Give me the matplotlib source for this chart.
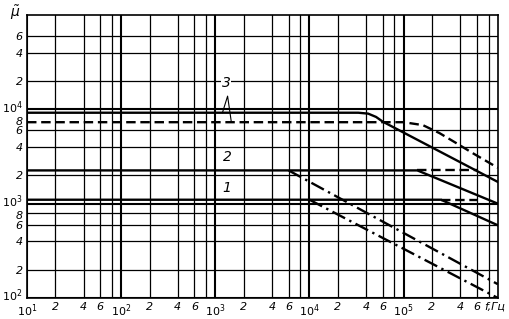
import numpy as np
import matplotlib
matplotlib.use("Agg")
import matplotlib.pyplot as plt
from matplotlib.transforms import ScaledTranslation

plt.rcParams["font.family"] = ["DejaVu Sans"]
plt.rcParams["mathtext.fontset"] = "dejavusans"
plt.rcParams["mathtext.default"] = "it"

# curve 3 (solid and dashed)
f3_solid = [10, 3.3e4, 4.2e4, 5.1e4, 6.0e4, 1e6]
mu3_solid = [9.2e3, 9.2e3, 9.0e3, 8.3e3, 7.4e3, 1.7e3]
f3_dash = [10, 1.0e5, 1.6e5, 2.4e5, 3.6e5, 5.5e5, 1e6]
mu3_dash = [7.3e3, 7.3e3, 6.8e3, 5.6e3, 4.4e3, 3.4e3, 2.4e3]

# curve 2
f2_solid = [10, 1.4e5, 1e6]
mu2_solid = [2.25e3, 2.25e3, 1.0e3]
f2_dash = [1.4e5, 6.0e5]
mu2_dash = [2.25e3, 2.25e3]
f2_dashdot = [6.0e3, 1e6]
mu2_dashdot = [2.25e3, 1.4e2]

# curve 1
f1_solid = [10, 2.5e5, 1e6]
mu1_solid = [1.1e3, 1.1e3, 5.9e2]
f1_dash = [2.5e5, 6.0e5]
mu1_dash = [1.1e3, 1.1e3]
f1_dashdot = [1.0e4, 1e6]
mu1_dashdot = [1.1e3, 1.0e2]

x_ticks = [10, 20, 40, 60, 1e2, 2e2, 4e2, 6e2, 1e3, 2e3, 4e3, 6e3,
           1e4, 2e4, 4e4, 6e4, 1e5, 2e5, 4e5, 6e5]
x_labels = ["$10^1$", "2", "4", "6", "$10^2$", "2", "4", "6", "$10^3$", "2", "4", "6",
            "$10^4$", "2", "4", "6", "$10^5$", "2", "4", "6"]
y_ticks = [1e2, 2e2, 4e2, 6e2, 8e2, 1e3, 2e3, 4e3, 6e3, 8e3, 1e4, 2e4, 4e4, 6e4]
y_labels = ["$10^2$", "2", "4", "6", "8", "$10^3$", "2", "4", "6", "8",
            "$10^4$", "2", "4", "6"]

fig = plt.figure(figsize=(5.1, 3.19), dpi=100)
ax = fig.add_axes([0.053, 0.066, 0.923, 0.887])
ax.set_xscale("log")
ax.set_yscale("log")
ax.set_xlim(10, 1e6)
ax.set_ylim(1e2, 1e5)

# grid
for d in [10, 100, 1e3, 1e4, 1e5]:
    ax.axvline(d, color="black", lw=1.5, zorder=1)
    for m in [2, 4, 6, 8]:
        ax.axvline(d * m, color="black", lw=0.9, zorder=1)
for d in [1e2, 1e3, 1e4]:
    ax.axhline(d, color="black", lw=1.5, zorder=1)
    for m in [2, 4, 6, 8]:
        if d * m in (8e3, 8e4):
            continue
        ax.axhline(d * m, color="black", lw=0.9, zorder=1)

lw = 1.7
ax.plot(f3_solid, mu3_solid, color="black", lw=lw, zorder=3)
ax.plot(f3_dash, mu3_dash, color="black", lw=lw, ls=(0, (4, 2)), zorder=3)
ax.plot(f2_solid, mu2_solid, color="black", lw=lw, zorder=3)
ax.plot(f2_dash, mu2_dash, color="black", lw=lw, ls=(0, (4, 2)), zorder=3)
ax.plot(f2_dashdot, mu2_dashdot, color="black", lw=lw, ls=(0, (6, 2, 1, 2)), zorder=3)
ax.plot(f1_solid, mu1_solid, color="black", lw=lw, zorder=3)
ax.plot(f1_dash, mu1_dash, color="black", lw=lw, ls=(0, (4, 2)), zorder=3)
ax.plot(f1_dashdot, mu1_dashdot, color="black", lw=lw, ls=(0, (6, 2, 1, 2)), zorder=3)

# curve labels
ax.text(1.31e3, 1.9e4, "3", fontsize=10, style="italic", ha="center", va="center",
        bbox=dict(fc="white", ec="none", pad=0.5), zorder=4)
ax.plot([1.19e3, 1.35e3, 1.48e3], [9.2e3, 1.38e4, 7.3e3], color="black", lw=0.8, zorder=4)
ax.text(1.34e3, 3.1e3, "2", fontsize=10, style="italic", ha="center", va="center",
        bbox=dict(fc="white", ec="none", pad=0.5), zorder=4)
ax.text(1.31e3, 1.47e3, "1", fontsize=10, style="italic", ha="center", va="center",
        bbox=dict(fc="white", ec="none", pad=0.5), zorder=4)

ax.set_xticks(x_ticks)
ax.set_xticklabels(x_labels, fontsize=8, style="italic")
ax.set_yticks(y_ticks)
ax.set_yticklabels(y_labels, fontsize=8, style="italic")
ax.minorticks_off()
ax.tick_params(length=0, pad=3)
for s in ax.spines.values():
    s.set_linewidth(1.2)

# nudge crowded y labels apart
for lab, txt in zip(ax.get_yticklabels(), y_labels):
    if txt.startswith("$10"):
        dy = 2.5 / 72
    elif txt == "8":
        dy = -1.5 / 72
    else:
        dy = 0
    lab.set_transform(lab.get_transform() + ScaledTranslation(0, dy, fig.dpi_scale_trans))

ax.text((484 - 27) / 471, -3.5 / 283, "f,Гц", transform=ax.transAxes, ha="left", va="top",
        fontsize=8, style="italic")
fig.text(15 / 510, 1 - 13 / 319, r"$\tilde{\mu}$", ha="center", va="center", fontsize=10)

fig.savefig("out.png", dpi=100)
